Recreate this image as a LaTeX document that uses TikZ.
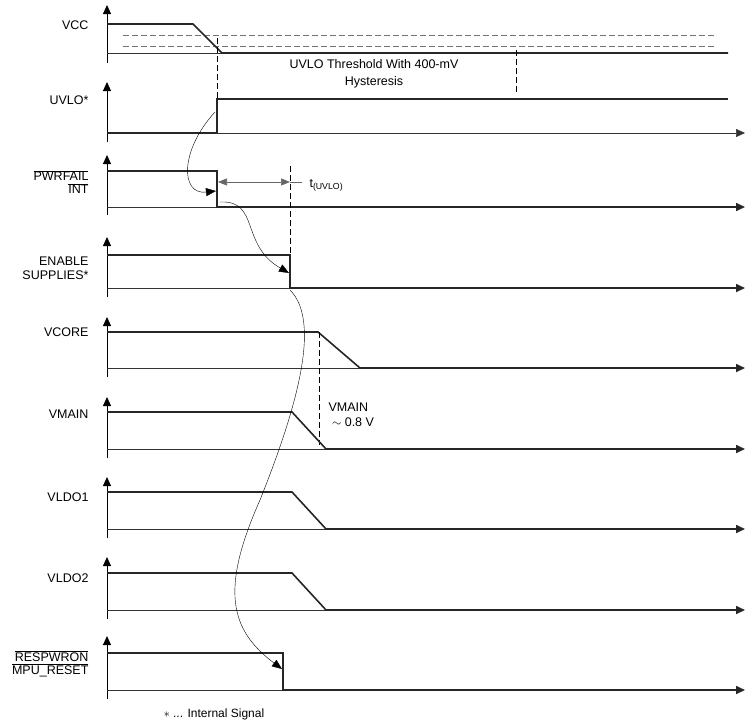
\documentclass[tikz,border=0pt]{standalone}
\usepackage{fontspec}
\setmainfont{Liberation Sans}
\usetikzlibrary{arrows.meta}
\newcommand{\ovl}[1]{$\overline{\mbox{#1}}$}
\begin{document}
\begin{tikzpicture}[x=1pt,y=-1pt,
 thin line/.style={line width=0.6pt,draw=black!80},
 sig/.style={line width=1.6pt,draw=black!85},
 ax/.style={line width=1pt,-{Triangle[length=9pt,width=8pt]}},
 dsh/.style={dashed,dash pattern=on 6pt off 3pt,line width=0.6pt},
 lab/.style={anchor=east,font=\fontsize{12.5}{14}\selectfont,align=right},
 arc/.style={line width=0.4pt,-{Triangle[length=10pt,width=8pt]}}]
\useasboundingbox (0,0) rectangle (747,723);
% axes
\foreach \t/\b in {5/63,82/142,155/215,237/297,317/377,397/458,477/538,557/619,636/699}
  \draw[ax] (107,\b) -- (107,\t);
% VCC
\node[lab] (lvcc) at (92,25) {VCC};
\draw[thin line] (107,53) -- (222,53);
\draw[dsh,draw=black!55] (123,35) -- (715,35);
\draw[dsh,draw=black!55] (123,46) -- (715,46);
\draw[sig] (107,24) -- (193,24) -- (222,53) -- (728,53);
\draw[dsh] (217,38) -- (217,133);
\draw[dsh] (516,50) -- (516,92);
\node[font=\fontsize{12.5}{17}\selectfont,align=center] (uvt) at (374,74) {UVLO Threshold With 400-mV\\Hysteresis};
% UVLO
\node[lab] (luvlo) at (92,100) {UVLO*};
\draw[thin line,-{Triangle[length=9pt,width=8pt]}] (107,133) -- (745,133);
\draw[sig] (107,133) -- (217,133) -- (217,99) -- (728,99);
% PWRFAIL
\node[lab] (lpf) at (92,182) {\ovl{PWRFAIL}\\[-1pt]\ovl{INT}};
\draw[thin line] (107,207) -- (217,207);
\draw[sig,-{Triangle[length=9pt,width=8pt]}] (107,171) -- (217,171) -- (217,207) -- (745,207);
\draw[line width=0.6pt,draw=black!60,{Triangle[length=9pt,width=7pt]}-{Triangle[length=9pt,width=7pt]}] (218,182) -- (290,182);
\draw[line width=0.6pt,draw=black!60] (290,182) -- (302,182);
\node[anchor=west,font=\fontsize{12.5}{14}\selectfont] (tu) at (306,185) {t\textsubscript{(UVLO)}};
\draw[dsh] (290,166) -- (290,290);
% ENABLE
\node[lab] (len) at (92,268) {ENABLE\\SUPPLIES*};
\draw[thin line] (107,288) -- (290,288);
\draw[sig,-{Triangle[length=9pt,width=8pt]}] (107,255) -- (290,255) -- (290,288) -- (745,288);
% VCORE
\node[lab] (lvc) at (92,332) {VCORE};
\draw[thin line] (107,368) -- (360,368);
\draw[sig,-{Triangle[length=9pt,width=8pt]}] (107,332) -- (318,332) -- (360,368) -- (745,368);
\draw[dsh] (319,332) -- (319,445);
% VMAIN
\node[lab] (lvm) at (92,414) {VMAIN};
\draw[thin line] (107,449) -- (326,449);
\draw[sig,-{Triangle[length=9pt,width=8pt]}] (107,412) -- (292,412) -- (326,449) -- (745,449);
\node[anchor=north west,font=\fontsize{12.5}{15}\selectfont,align=left] (vml) at (325,399) {VMAIN\\\ $\sim$ 0.8 V};
% VLDO1
\node[lab] (l1) at (92,497) {VLDO1};
\draw[thin line] (107,529) -- (326,529);
\draw[sig,-{Triangle[length=9pt,width=8pt]}] (107,492) -- (292,492) -- (326,529) -- (745,529);
% VLDO2
\node[lab] (l2) at (92,578) {VLDO2};
\draw[thin line] (107,610) -- (326,610);
\draw[sig,-{Triangle[length=9pt,width=8pt]}] (107,573) -- (292,573) -- (326,610) -- (745,610);
% RESPWRON
\node[lab] (lr) at (92,664) {\ovl{RESPWRON}\\[-1pt]\ovl{MPU\_RESET}};
\draw[thin line] (107,690) -- (283,690);
\draw[sig,-{Triangle[length=9pt,width=8pt]}] (107,653) -- (283,653) -- (283,690) -- (745,690);
% causal arcs
\coordinate (a1) at (215,112);
\coordinate (a1e) at (216,191);
\coordinate (a2) at (220,202);
\coordinate (a2e) at (289,273);
\coordinate (a3) at (290,290);
\coordinate (a3e) at (282,669);
\draw[arc] (a1) .. controls (180,150) and (180,195) .. (a1e);
\draw[arc] (a2) .. controls (260,200) and (240,245) .. (a2e);
\draw[arc] (a3) .. controls (320,320) and (300,400) .. (260,500) .. controls (220,590) and (230,630) .. (a3e);
\node[font=\fontsize{12}{14}\selectfont] (fn) at (214,714) {$\ast$ ... Internal Signal};
\end{tikzpicture}
\end{document}
